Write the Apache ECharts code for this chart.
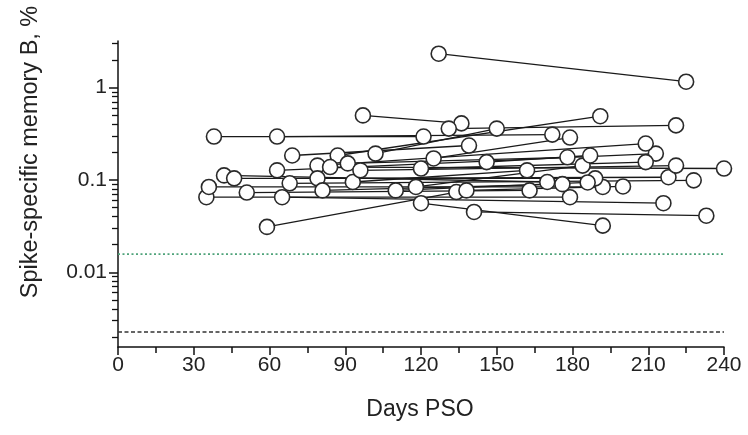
<!DOCTYPE html>
<html>
<head>
<meta charset="utf-8">
<script src="https://cdn.jsdelivr.net/npm/echarts@6/dist/echarts.min.js"></script>
<style>html,body{margin:0;padding:0;background:#fff;}#c{width:748px;height:435px;}</style>
</head>
<body>
<div id="c"></div>
<script>
// Paired measurements: first visit (early) and second visit (late)
var earlyDays   = [127, 38, 63, 97, 87, 131, 102, 59, 120, 141, 65, 35, 36, 42, 46, 51, 63, 68, 69, 79, 79, 81, 84, 91, 93, 96, 110, 118, 120, 125, 138, 146];
var earlyValues = [2.33, 0.295, 0.295, 0.50, 0.184, 0.36, 0.193, 0.031, 0.056, 0.045, 0.065, 0.065, 0.084, 0.112, 0.104, 0.073, 0.127, 0.092, 0.184, 0.143, 0.104, 0.077, 0.138, 0.151, 0.095, 0.127, 0.077, 0.084, 0.133, 0.171, 0.077, 0.156];
var lateDays    = [225, 121, 172, 136, 191, 221, 150, 134, 192, 233, 216, 179, 192, 170, 189, 163, 213, 228, 139, 209, 218, 176, 240, 178, 162, 221, 186, 184, 209, 179, 200, 187];
var lateValues  = [1.16, 0.295, 0.31, 0.41, 0.49, 0.39, 0.36, 0.074, 0.032, 0.041, 0.056, 0.065, 0.084, 0.095, 0.104, 0.077, 0.193, 0.099, 0.236, 0.248, 0.107, 0.090, 0.133, 0.176, 0.127, 0.143, 0.094, 0.143, 0.156, 0.288, 0.085, 0.184];

var greenLimit = 0.0157;
var blackLimit = 0.00225;
var xRange = [0, 240];

var xTicks = [0, 30, 60, 90, 120, 150, 180, 210, 240];
var yLabels = [0.01, 0.1, 1];
var yMinorTicks = [0.002,0.003,0.004,0.005,0.006,0.007,0.008,0.009,
                   0.02,0.03,0.04,0.05,0.06,0.07,0.08,0.09,
                   0.2,0.3,0.4,0.5,0.6,0.7,0.8,0.9,2,3];

var FONT = "'Liberation Sans', Arial, sans-serif";
var TXT = '#222';

var series = [];
// reference limit lines
series.push({
  type: 'line', data: [[xRange[0], greenLimit], [xRange[1], greenLimit]],
  symbol: 'none', silent: true, animation: false, z: 1,
  lineStyle: { color: '#4fa37a', type: [2, 2.5], width: 1.8 }
});
series.push({
  type: 'line', data: [[xRange[0], blackLimit], [xRange[1], blackLimit]],
  symbol: 'none', silent: true, animation: false, z: 1,
  lineStyle: { color: '#333', type: [4, 2.5], width: 1.4 }
});
for (var i = 0; i < earlyDays.length; i++) {
  series.push({
    type: 'line',
    data: [[earlyDays[i], earlyValues[i]], [lateDays[i], lateValues[i]]],
    showSymbol: false,
    symbol: 'none',
    silent: true,
    animation: false,
    lineStyle: { color: '#1a1a1a', width: 1.3 },
    z: 2
  });
}
var pts = [];
for (var j = 0; j < earlyDays.length; j++) {
  pts.push([earlyDays[j], earlyValues[j]]);
  pts.push([lateDays[j], lateValues[j]]);
}
series.push({
  type: 'scatter',
  data: pts,
  symbol: 'circle',
  symbolSize: 15,
  animation: false,
  itemStyle: { color: '#fff', borderColor: '#2a2a2a', borderWidth: 1.6, opacity: 1 },
  z: 5
});

var chart = echarts.init(document.getElementById('c'));
chart.setOption({
  animation: false,
  backgroundColor: '#fff',
  grid: { left: 118, right: 24, top: 41, bottom: 88, containLabel: false },
  xAxis: {
    type: 'value', min: 0, max: 240, interval: 30,
    axisLine: { show: true, lineStyle: { color: '#111', width: 1.5 } },
    axisTick: { show: true, inside: false, length: 8, lineStyle: { color: '#111', width: 1.5 } },
    minorTick: { show: true, splitNumber: 2, length: 6, lineStyle: { color: '#111', width: 1.5 } },
    splitLine: { show: false },
    axisLabel: { color: TXT, fontSize: 21, fontFamily: FONT, margin: 8,
                 formatter: function (v) { return xTicks.indexOf(v) >= 0 ? String(v) : ''; } }
  },
  yAxis: [{
    type: 'log', logBase: 10, min: 0.00155, max: 3.2,
    axisLine: { show: true, onZero: false, lineStyle: { color: '#111', width: 1.5 } },
    axisTick: { show: true, length: 9, customValues: yLabels, lineStyle: { color: '#111', width: 1.5 } },
    splitLine: { show: false },
    axisLabel: { color: TXT, fontSize: 21, fontFamily: FONT, margin: 11, customValues: yLabels,
                 formatter: function (v) { return String(v); } }
  }, {
    type: 'log', logBase: 10, min: 0.00155, max: 3.2, position: 'left', offset: 0,
    axisLine: { show: false },
    axisTick: { show: true, length: 6, customValues: yMinorTicks, lineStyle: { color: '#111', width: 1.3 } },
    splitLine: { show: false },
    axisLabel: { show: false }
  }],
  graphic: [
    { type: 'text', x: 31, y: 152, rotation: Math.PI / 2,
      style: { text: 'Spike-specific memory B, %', fill: TXT, font: '23.5px ' + FONT, align: 'center', verticalAlign: 'middle' } },
    { type: 'text', x: 420, y: 410,
      style: { text: 'Days PSO', fill: TXT, font: '23px ' + FONT, align: 'center', verticalAlign: 'middle' } }
  ],
  series: series
});
</script>
</body>
</html>
